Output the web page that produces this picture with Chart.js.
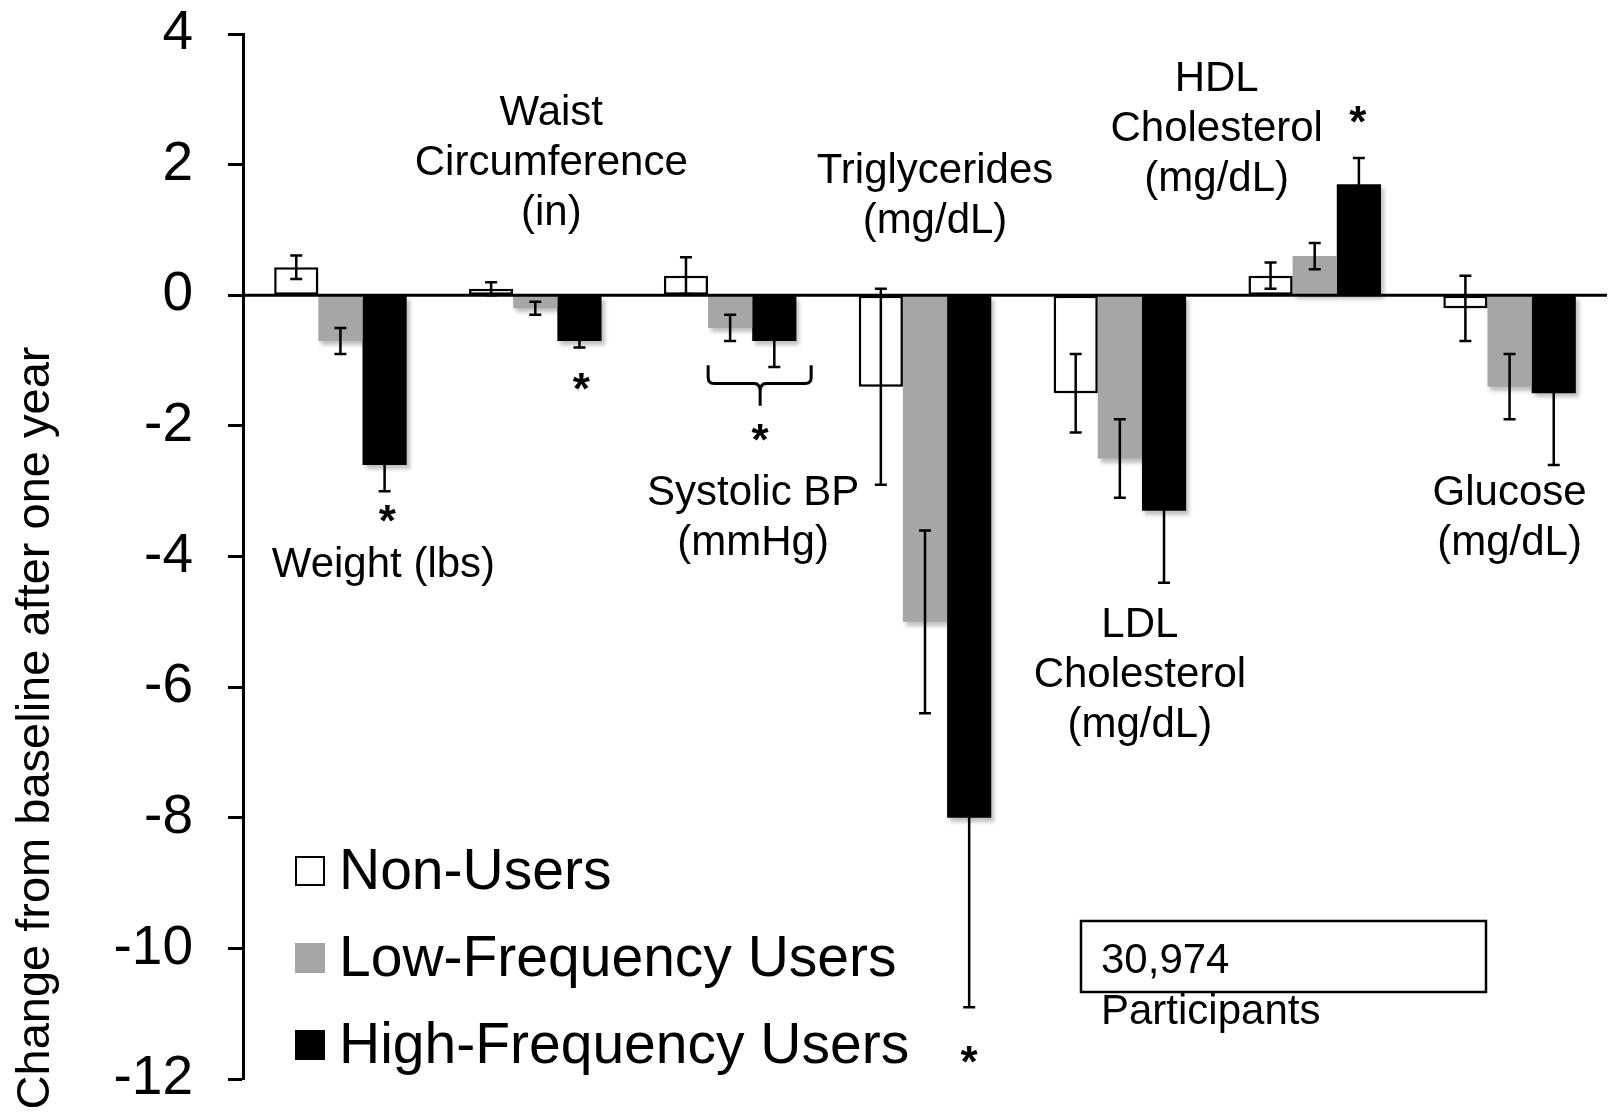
<!DOCTYPE html>
<html>
<head>
<meta charset="utf-8">
<script src="https://cdn.jsdelivr.net/npm/chart.js@4.4.0/dist/chart.umd.min.js"></script>
<style>
  html, body { margin: 0; padding: 0; background: #fff; }
  #canvas_frame { width: 1610px; height: 1112px; position: relative; }
</style>
</head>
<body>
<div id="canvas_frame"><canvas id="DataChart"></canvas></div>
<script>
// categories (x) and the three user groups
const categories = ['Weight (lbs)', 'Waist Circumference (in)', 'Systolic BP (mmHg)',
  'Triglycerides (mg/dL)', 'LDL Cholesterol (mg/dL)', 'HDL Cholesterol (mg/dL)', 'Glucose (mg/dL)'];
const seriesNames = ['Non-Users', 'Low-Frequency Users', 'High-Frequency Users'];

const nonUsers     = [0.43, 0.1, 0.3, -1.4, -1.5, 0.3, -0.2];
const nonUsersErr  = [0.18, 0.1, 0.28, 1.5, 0.6, 0.2, 0.5];
const lowFreq      = [-0.7, -0.2, -0.5, -5.0, -2.5, 0.6, -1.4];
const lowFreqErr   = [0.2, 0.1, 0.2, 1.4, 0.6, 0.2, 0.5];
const highFreq     = [-2.6, -0.7, -0.7, -8.0, -3.3, 1.7, -1.5];
const highFreqErr  = [0.4, 0.1, 0.4, 2.9, 1.1, 0.4, 1.1];

const yMin = -12, yMax = 4, yStep = 2;
const yTitle = 'Change from baseline after one year';
const participants = ['30,974', 'Participants'];

const FONT = "'Liberation Sans', Arial, sans-serif";
const GRAY = '#a6a6a6';

// text labels placed next to each group (cat index, pixel shift, y in data units)
const groupNotes = [
  { cat: 0, dx: 43, y: -4.13, lines: ['Weight (lbs)'] },
  { cat: 1, dx: 16, y: 2.79, lines: ['Waist', 'Circumference', '(in)'] },
  { cat: 2, dx: 23, y: -3.03, lines: ['Systolic BP', '(mmHg)'] },
  { cat: 3, dx: 10, y: 1.90, lines: ['Triglycerides', '(mg/dL)'] },
  { cat: 4, dx: 20, y: -5.05, lines: ['LDL', 'Cholesterol', '(mg/dL)'] },
  { cat: 5, dx: -98, y: 3.31, lines: ['HDL', 'Cholesterol', '(mg/dL)'] },
  { cat: 6, dx: 0, y: -3.03, lines: ['Glucose', '(mg/dL)'] }
];
// significance stars
const stars = [
  { cat: 0, dx: 47, y: -3.29 },
  { cat: 1, dx: 46, y: -1.27 },
  { cat: 2, dx: 30, y: -2.05 },
  { cat: 3, dx: 44, y: -11.57 },
  { cat: 5, dx: 43, y: 2.82 }
];

const plugin = {
  id: 'extras',
  beforeDatasetsDraw(chart) {
    const c = chart.ctx;
    c.save();
    c.shadowColor = 'rgba(0,0,0,0.25)';
    c.shadowBlur = 4;
    c.shadowOffsetX = 3;
    c.shadowOffsetY = 4;
  },
  afterDatasetsDraw(chart) {
    const ctx = chart.ctx;
    ctx.restore();
    const area = chart.chartArea, ys = chart.scales.y;
    // zero line
    const y0 = ys.getPixelForValue(0);
    ctx.save();
    ctx.strokeStyle = '#000';
    ctx.lineWidth = 3;
    ctx.beginPath();
    ctx.moveTo(area.left, y0);
    ctx.lineTo(area.right, y0);
    ctx.stroke();
    // error bars
    ctx.lineWidth = 2.5;
    chart.data.datasets.forEach((ds, di) => {
      const meta = chart.getDatasetMeta(di);
      meta.data.forEach((bar, i) => {
        const v = ds.data[i], e = ds.errors[i];
        const yt = ys.getPixelForValue(v + e), yb = ys.getPixelForValue(v - e);
        const x = bar.x;
        ctx.beginPath();
        ctx.moveTo(x, yt); ctx.lineTo(x, yb);
        ctx.moveTo(x - 6, yt); ctx.lineTo(x + 6, yt);
        ctx.moveTo(x - 6, yb); ctx.lineTo(x + 6, yb);
        ctx.stroke();
      });
    });
    ctx.restore();
  },
  afterDraw(chart) {
    const ctx = chart.ctx, xs = chart.scales.x, ys = chart.scales.y;
    ctx.save();
    ctx.fillStyle = '#000';
    ctx.strokeStyle = '#000';

    // y title
    ctx.save();
    ctx.translate(36, 728);
    ctx.rotate(-Math.PI / 2);
    ctx.font = '47px ' + FONT;
    ctx.textAlign = 'center';
    ctx.textBaseline = 'middle';
    ctx.fillText(yTitle, 0, 0);
    ctx.restore();

    // group labels
    ctx.font = '42px ' + FONT;
    ctx.textAlign = 'center';
    ctx.textBaseline = 'middle';
    groupNotes.forEach(n => {
      const x = xs.getPixelForValue(n.cat) + n.dx;
      const y = ys.getPixelForValue(n.y);
      n.lines.forEach((t, k) => ctx.fillText(t, x, y + k * 50));
    });

    // stars
    ctx.font = 'bold 44px ' + FONT;
    ctx.textBaseline = 'alphabetic';
    stars.forEach(s => {
      const x = xs.getPixelForValue(s.cat) + s.dx;
      const y = ys.getPixelForValue(s.y);
      ctx.fillText('*', x, y + 26);
    });

    // brace under systolic low/high bars
    const bx = xs.getPixelForValue(2);
    const bl = bx - 22, br = bx + 81, bm = bx + 30;
    const bTop = ys.getPixelForValue(-1.07), bMid = ys.getPixelForValue(-1.35), bTip = ys.getPixelForValue(-1.69);
    ctx.lineWidth = 3;
    ctx.beginPath();
    ctx.moveTo(bl, bTop);
    ctx.lineTo(bl, bMid - 6);
    ctx.quadraticCurveTo(bl, bMid, bl + 6, bMid);
    ctx.lineTo(bm - 6, bMid);
    ctx.quadraticCurveTo(bm, bMid, bm, bMid + 8);
    ctx.lineTo(bm, bTip);
    ctx.moveTo(bm, bMid + 8);
    ctx.quadraticCurveTo(bm, bMid, bm + 6, bMid);
    ctx.lineTo(br - 6, bMid);
    ctx.quadraticCurveTo(br, bMid, br, bMid - 6);
    ctx.lineTo(br, bTop);
    ctx.stroke();

    // legend
    ctx.font = '57px ' + FONT;
    ctx.textAlign = 'left';
    ctx.textBaseline = 'middle';
    const legendY = [871, 958, 1045];
    chart.data.datasets.forEach((ds, i) => {
      const y = legendY[i];
      ctx.fillStyle = ds.backgroundColor;
      ctx.fillRect(295, y - 15, 30, 30);
      if (ds.borderWidth) {
        ctx.lineWidth = 2;
        ctx.strokeStyle = '#000';
        ctx.strokeRect(296, y - 14, 28, 28);
      }
      ctx.fillStyle = '#000';
      ctx.fillText(ds.label, 339, y + 2);
    });

    // participants box
    ctx.lineWidth = 2.5;
    ctx.strokeRect(1081, 921, 405, 71);
    ctx.font = '42px ' + FONT;
    ctx.fillText(participants[0], 1101, 961);
    ctx.fillText(participants[1], 1101, 1012);
    ctx.restore();
  }
};

const chartData = {
  labels: categories,
  datasets: [
    { label: seriesNames[0], data: nonUsers, errors: nonUsersErr, backgroundColor: '#ffffff',
      borderColor: '#000', borderWidth: 2.5, borderSkipped: false },
    { label: seriesNames[1], data: lowFreq, errors: lowFreqErr, backgroundColor: GRAY, borderWidth: 0 },
    { label: seriesNames[2], data: highFreq, errors: highFreqErr, backgroundColor: '#000000', borderWidth: 0 }
  ]
};

const config = {
  type: 'bar',
  data: chartData,
  options: {
    responsive: true,
    maintainAspectRatio: false,
    animation: false,
    layout: { padding: { top: 0, bottom: 0, left: 0, right: 3 } },
    datasets: { bar: { categoryPercentage: 0.68, barPercentage: 1.0 } },
    scales: {
      x: { display: false },
      y: {
        min: yMin, max: yMax,
        afterFit: (scale) => {
          scale.width = 243;
          scale.paddingTop = 34;
          scale.paddingBottom = 33;
        },
        ticks: { stepSize: yStep, color: '#000', padding: 35, font: { family: FONT, size: 55 } },
        grid: { drawOnChartArea: false, drawTicks: true, tickLength: 15, tickWidth: 3, tickColor: '#000' },
        border: { display: true, color: '#000', width: 3 }
      }
    },
    plugins: { legend: { display: false }, tooltip: { enabled: false }, title: { display: false } }
  },
  plugins: [plugin]
};

new Chart(document.getElementById('DataChart'), config);
</script>
</body>
</html>
